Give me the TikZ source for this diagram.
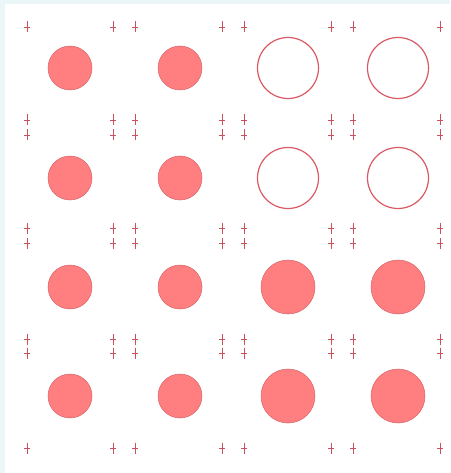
\documentclass[tikz,border=0pt]{standalone}
\definecolor{bgcyan}{HTML}{EAF6F8}
\definecolor{dotfill}{HTML}{FF7F80}
\definecolor{dotline}{HTML}{D8626A}
\definecolor{ringline}{HTML}{DA5A64}
\definecolor{crosscol}{HTML}{C9505C}
\begin{document}
\begin{tikzpicture}[x=1pt,y=-1pt,
  smalldot/.style={circle,fill=dotfill,draw=dotline,line width=0.5pt,minimum size=44pt,inner sep=0pt},
  bigdot/.style={circle,fill=dotfill,draw=dotline,line width=0.5pt,minimum size=54pt,inner sep=0pt},
  ring/.style={circle,draw=ringline,line width=1.2pt,minimum size=61pt,inner sep=0pt},
  crossmark/.style={draw=crosscol,line width=0.6pt}]
\useasboundingbox (0,0) rectangle (450,473);
\fill[bgcyan] (0,0) rectangle (450,473);
\fill[white] (5,4) rectangle (450,473);
% crosses
\foreach \cx in {27,113,135,222,244,331,353,440}{
  \foreach \cy in {27,120,135,228,243,339,353,448}{
    \draw[crossmark] (\cx,\cy-5.5) -- (\cx,\cy+5.5);
    \draw[crossmark] (\cx-2.8,\cy+0.5) -- (\cx+2.8,\cy+0.5);
  }
}
% row 1
\node[smalldot] (c11) at (70,68) {};
\node[smalldot] (c12) at (180,68) {};
\node[ring] (c13) at (288,68) {};
\node[ring] (c14) at (398,68) {};
% row 2
\node[smalldot] (c21) at (70,178) {};
\node[smalldot] (c22) at (180,178) {};
\node[ring] (c23) at (288,178) {};
\node[ring] (c24) at (398,178) {};
% row 3
\node[smalldot] (c31) at (70,287) {};
\node[smalldot] (c32) at (180,287) {};
\node[bigdot] (c33) at (288,287) {};
\node[bigdot] (c34) at (398,287) {};
% row 4
\node[smalldot] (c41) at (70,396) {};
\node[smalldot] (c42) at (180,396) {};
\node[bigdot] (c43) at (288,396) {};
\node[bigdot] (c44) at (398,396) {};
\end{tikzpicture}
\end{document}
